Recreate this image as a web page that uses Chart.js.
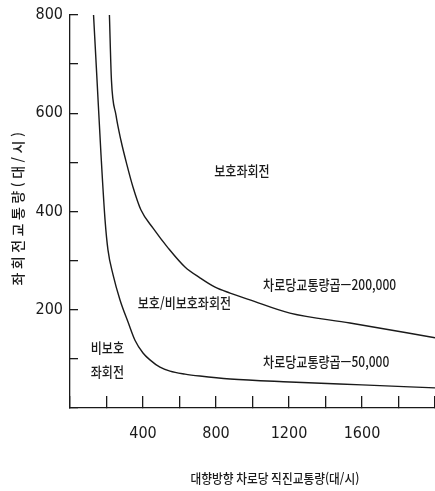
<!DOCTYPE html>
<html lang="ko">
<head>
<meta charset="utf-8">
<title>좌회전 운영방식 기준</title>
<script src="https://cdn.jsdelivr.net/npm/chart.js@4.4.1/dist/chart.umd.min.js"></script>
<style>
    html, body { margin: 0; padding: 0; background: #fff; }
    #wrap { width: 435px; height: 491px; }
</style>
</head>
<body>
<div id="wrap"><canvas id="chart" width="435" height="491"></canvas></div>
<script>
// 대향방향 직진교통량 (x) 와 좌회전교통량 (y), 대/시
const upperX = [216, 227, 252, 279, 312, 345, 389, 455, 537, 630, 712, 795, 877, 986, 1205, 1534, 2000];
const upperY = [800, 668, 596, 545, 495, 450, 403, 366, 326, 287, 265, 246, 234, 220, 193, 173, 143];
const lowerX = [129, 148, 170, 192, 208, 236, 274, 318, 356, 400, 438, 493, 548, 630, 712, 877, 1205, 1600, 2000];
const lowerY = [800, 668, 515, 383, 322, 271, 220, 175, 138, 112, 98, 83, 75, 69, 65, 59, 53, 47, 41];

const xTickLabels = [400, 800, 1200, 1600];
const yTickLabels = [200, 400, 600, 800];

// 영역 이름과 곡선 이름 (데이터 좌표에 붙임)
const regionLabels = [
    { text: '보호좌회전', x: 942, y: 484, align: 'center' },
    { text: '보호/비보호좌회전', x: 627, y: 214, align: 'center' },
    { text: '비보호', x: 205, y: 122, align: 'center' },
    { text: '좌회전', x: 205, y: 73, align: 'center' },
    { text: '차로당교통량곱—200,000', x: 1058, y: 251, align: 'left' },
    { text: '차로당교통량곱—50,000', x: 1058, y: 94, align: 'left' }
];

const xTitle = '대향방향 차로당 직진교통량(대/시)';
const yTitle = '좌회전교통량(대/시)';

const INK = '#1a1a1a';
const KR_FONT = '"Noto Sans CJK KR", "Noto Sans", sans-serif';
const NUM_FONT = '"Liberation Sans Narrow", "Arial Narrow", "DejaVu Sans Condensed", sans-serif';

function toPoints(xs, ys) {
    return xs.map((x, i) => ({ x: x, y: ys[i] }));
}

function drawNarrowText(ctx, text, px, py, align, size, squeeze) {
    ctx.save();
    ctx.translate(px, py);
    ctx.scale(squeeze, 1);
    ctx.font = '500 ' + size + 'px ' + KR_FONT;
    ctx.textAlign = align;
    ctx.textBaseline = 'middle';
    ctx.fillText(text, 0, 0);
    ctx.restore();
}

const textPlugin = {
    id: 'textPlugin',
    afterDraw(chart) {
        const ctx = chart.ctx;
        const xs = chart.scales.x;
        const ys = chart.scales.y;
        ctx.save();
        ctx.fillStyle = INK;

        regionLabels.forEach(l => {
            drawNarrowText(ctx, l.text, xs.getPixelForValue(l.x), ys.getPixelForValue(l.y), l.align, 14, 0.86);
        });

        // x축 제목
        drawNarrowText(ctx, xTitle, xs.getPixelForValue(1123), chart.chartArea.bottom + 70, 'center', 13, 0.9);

        // y축 제목 (세로)
        ctx.save();
        ctx.translate(18, ys.getPixelForValue(409));
        ctx.rotate(-Math.PI / 2);
        ctx.font = '500 14px ' + KR_FONT;
        ctx.letterSpacing = '3.5px';
        ctx.textAlign = 'center';
        ctx.textBaseline = 'middle';
        ctx.fillText(yTitle, 0, 0);
        ctx.restore();

        ctx.restore();
    }
};

const lineStyle = {
    borderColor: INK,
    borderWidth: 1.4,
    pointRadius: 0,
    fill: false,
    cubicInterpolationMode: 'monotone'
};

new Chart(document.getElementById('chart').getContext('2d'), {
    type: 'line',
    data: {
        datasets: [
            Object.assign({ label: '차로당교통량곱=200,000', data: toPoints(upperX, upperY) }, lineStyle),
            Object.assign({ label: '차로당교통량곱=50,000', data: toPoints(lowerX, lowerY) }, lineStyle)
        ]
    },
    options: {
        responsive: false,
        animation: false,
        layout: { padding: { top: 15, right: 0, bottom: 0, left: 0 } },
        plugins: {
            legend: { display: false },
            tooltip: { enabled: false }
        },
        scales: {
            x: {
                type: 'linear',
                min: 0,
                max: 2000,
                afterFit: s => {
                    s.height = 83;
                    // the large tick padding must not push the plot edges in
                    s.paddingLeft = 0;
                    s.paddingRight = 0;
                },
                border: { color: INK, width: 1.3 },
                grid: { drawOnChartArea: false, tickLength: -12, color: INK, lineWidth: 1.3 },
                ticks: {
                    stepSize: 200,
                    padding: 28,
                    autoSkip: false,
                    maxRotation: 0,
                    color: INK,
                    font: { family: NUM_FONT, size: 16 },
                    callback: v => xTickLabels.includes(v) ? String(v) : ''
                }
            },
            y: {
                type: 'linear',
                min: 0,
                max: 800,
                afterFit: s => {
                    s.width = 70;
                    s.paddingTop = 0;
                    s.paddingBottom = 0;
                },
                border: { color: INK, width: 1.3 },
                grid: { drawOnChartArea: false, tickLength: -8, color: INK, lineWidth: 1.3 },
                ticks: {
                    stepSize: 100,
                    padding: 15,
                    autoSkip: false,
                    color: INK,
                    font: { family: NUM_FONT, size: 16 },
                    callback: v => yTickLabels.includes(v) ? String(v) : ''
                }
            }
        }
    },
    plugins: [textPlugin]
});
</script>
</body>
</html>
